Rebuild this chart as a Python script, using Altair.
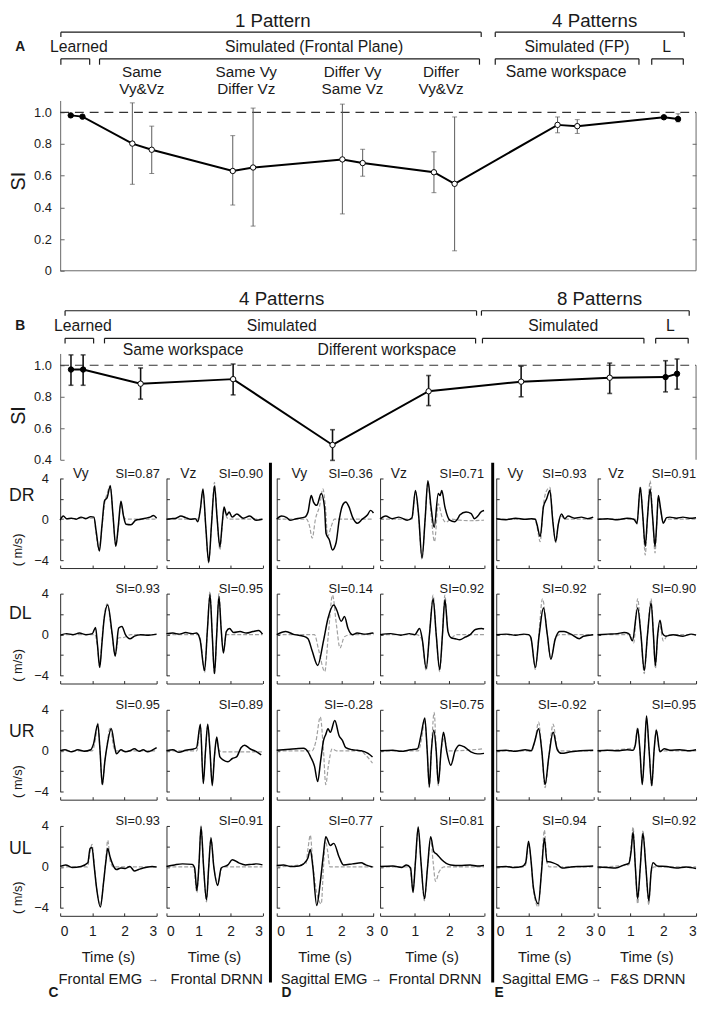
import altair as alt
import pandas as pd

FONT = "Liberation Sans"
INK = "#1a1a1a"
AXC = "#666666"
NEG4 = alt.ExprRef(expr="-4")
NEG3 = alt.ExprRef(expr="-3")

# ---------------- Panel A (1 pattern / 4 patterns) ----------------
A_POS = [1.66, 3.51, 11.35, 14.40, 27.14, 30.34, 44.38, 47.57, 58.78, 62.03, 78.22, 81.32, 94.94, 97.17]
A_SI = [0.981, 0.973, 0.803, 0.764, 0.630, 0.652, 0.703, 0.680, 0.622, 0.549, 0.921, 0.913, 0.969, 0.958]
A_LO = [0.976, 0.969, 0.546, 0.614, 0.415, 0.282, 0.359, 0.597, 0.493, 0.126, 0.871, 0.867, 0.965, 0.940]
A_HI = [0.986, 0.977, 1.060, 0.913, 0.853, 1.027, 1.052, 0.767, 0.751, 0.971, 0.971, 0.954, 0.973, 0.991]
A_KIND = ["learned", "learned"] + ["simulated"] * 10 + ["learned", "learned"]

A_BR_X1 = [0.11, 68.42, 0.11, 6.19, 68.42, 93.03]
A_BR_X2 = [66.21, 98.14, 4.64, 65.94, 91.02, 97.99]
A_BR_Y = [1.506, 1.506, 1.338, 1.338, 1.338, 1.338]
A_BR_YEND = [1.475, 1.475, 1.301, 1.301, 1.301, 1.301]

A_HEAD = ["1 Pattern", "4 Patterns"]
A_HEAD_X = [33.44, 84.06]
A_HEAD_Y = [1.633, 1.633]
A_LAB = ["Learned", "Simulated (Frontal Plane)", "Simulated (FP)", "L",
         "Same", "Vy&Vz", "Same Vy", "Differ Vz", "Differ Vy", "Same Vz",
         "Differ", "Vy&Vz", "Same workspace"]
A_LAB_X = [2.94, 39.94, 81.27, 95.36, 12.85, 12.85, 29.26, 29.26, 45.98, 45.98,
           59.91, 59.91, 79.57]
A_LAB_Y = [1.413, 1.413, 1.413, 1.413, 1.257, 1.145, 1.257, 1.145, 1.257, 1.145,
           1.257, 1.145, 1.257]
A_LAB_FS = [16, 16, 16, 16, 15.5, 15.5, 15.5, 15.5, 15.5, 15.5, 15.5, 15.5, 16]

# ---------------- Panel B (4 patterns / 8 patterns) ----------------
B_POS = [1.70, 3.61, 12.65, 27.20, 42.83, 57.94, 72.49, 86.42, 95.20, 97.01]
B_SI = [0.973, 0.973, 0.883, 0.912, 0.494, 0.835, 0.896, 0.921, 0.925, 0.946]
B_LO = [0.873, 0.873, 0.785, 0.812, 0.396, 0.744, 0.800, 0.821, 0.831, 0.848]
B_HI = [1.066, 1.066, 0.983, 1.008, 0.591, 0.935, 0.994, 1.014, 1.029, 1.040]
B_KIND = ["learned", "learned"] + ["simulated"] * 6 + ["learned", "learned"]

B_BR_X1 = [0.77, 66.25, 0.77, 6.97, 66.41, 93.65]
B_BR_X2 = [65.48, 98.92, 5.26, 65.33, 91.80, 98.76]
B_BR_Y = [1.346, 1.346, 1.171, 1.171, 1.171, 1.171]
B_BR_YEND = [1.315, 1.315, 1.139, 1.139, 1.139, 1.139]

B_HEAD = ["4 Patterns", "8 Patterns"]
B_HEAD_X = [34.83, 84.83]
B_HEAD_Y = [1.421, 1.421]
B_LAB = ["Learned", "Simulated", "Simulated", "L", "Same workspace", "Different workspace"]
B_LAB_X = [3.56, 34.83, 79.10, 95.98, 19.35, 51.39]
B_LAB_Y = [1.248, 1.248, 1.248, 1.248, 1.099, 1.099]
B_LAB_FS = [16, 16, 16, 16, 16, 16]

# ---------------- Velocity traces (t in s, v in m/s) ----------------
# K = recorded (black), G = simulated (grey dashed)
DR1_T = [0, 0.1, 0.2, 0.35, 0.5, 0.65, 0.8, 0.95, 1.05, 1.12, 1.22, 1.3, 1.38, 1.46, 1.56, 1.64, 1.73, 1.81, 1.89, 1.97, 2.05, 2.2, 2.35, 2.5, 2.65, 2.8, 2.9, 3.0]
DR1_K = [-0.1, 0.3, 0.05, 0.1, 0.0, 0.2, 0.05, 0.25, 0.2, -1.2, -3.1, -0.6, 1.8, 2.1, 3.25, 0.5, -2.65, -0.6, 1.75, 0.3, -0.5, -0.55, -0.1, 0.0, 0.1, 0.2, 0.35, 0.1]
DR1_GT = [0, 1.05, 1.12, 1.2, 1.3, 1.38, 1.47, 1.56, 1.64, 1.73, 1.81, 1.89, 1.97, 2.05, 3.0]
DR1_G = [0, 0.1, -1.5, -3.0, -0.8, 1.5, 2.6, 3.3, 0.4, -2.6, -0.8, 1.5, 0.3, 0.0, 0.0]

DR2_T = [0, 0.15, 0.3, 0.45, 0.6, 0.75, 0.9, 0.98, 1.06, 1.14, 1.23, 1.32, 1.41, 1.5, 1.58, 1.67, 1.74, 1.8, 1.88, 1.96, 2.05, 2.2, 2.4, 2.6, 2.8, 3.0]
DR2_K = [0.0, 0.05, 0.1, 0.3, 0.15, 0.0, 0.05, -0.25, 1.0, 2.95, -0.8, -4.2, -0.4, 3.25, 0.2, -2.7, -0.5, 1.2, 0.4, 0.7, 0.2, 0.5, 0.1, 0.3, -0.1, 0.0]
DR2_GT = [0, 0.98, 1.06, 1.14, 1.23, 1.32, 1.41, 1.5, 1.58, 1.67, 1.74, 1.8, 1.88, 1.96, 3.0]
DR2_G = [0, 0.0, 1.0, 2.8, -0.9, -4.3, -0.3, 3.6, 0.3, -3.0, -0.8, 1.0, 0.2, 0.0, 0.0]

DR3_T = [0, 0.15, 0.31, 0.41, 0.61, 0.87, 0.97, 1.07, 1.14, 1.24, 1.38, 1.48, 1.53, 1.63, 1.73, 1.84, 1.94, 2.04, 2.14, 2.24, 2.35, 2.5, 2.65, 2.81, 2.91, 3.0]
DR3_K = [0.0, 0.3, 0.15, -0.1, 0.05, 0.2, 0.7, 2.3, 1.67, 1.35, 2.5, 1.2, -1.4, -2.0, -3.0, -2.3, 0.0, 1.35, 1.67, 1.2, 0.2, -0.4, 0.0, 0.4, 0.86, 0.6]
DR3_GT = [0, 0.92, 1.02, 1.1, 1.2, 1.33, 1.43, 1.51, 1.58, 1.68, 1.79, 3.0]
DR3_G = [0, 0.0, -0.7, -1.86, 0.0, 1.3, 2.95, 1.2, -1.7, -0.8, 0.0, 0.0]

DR4_T = [0, 0.16, 0.35, 0.54, 0.78, 0.92, 1.02, 1.11, 1.21, 1.3, 1.38, 1.47, 1.56, 1.68, 1.73, 1.78, 1.87, 2.01, 2.15, 2.25, 2.3, 2.48, 2.63, 2.72, 2.82, 2.91, 3.0]
DR4_K = [0.0, 0.3, 0.05, 0.2, -0.1, 0.15, 2.8, 0.5, -3.8, 0.0, 3.75, 1.2, -0.8, 2.5, 2.3, 2.8, 1.2, -0.1, -0.25, 0.1, 0.4, 0.7, 0.55, 0.05, 0.3, 0.7, 0.85]
DR4_GT = [0, 0.92, 1.02, 1.11, 1.21, 1.3, 1.38, 1.47, 1.57, 1.68, 1.78, 1.9, 2.05, 2.3, 2.6, 3.0]
DR4_G = [0, 0.0, 2.7, 0.3, -3.9, 0.0, 3.6, 0.5, -2.2, 1.5, 0.3, -0.3, 0.0, -0.1, -0.15, -0.1]

DR5_T = [0, 0.3, 0.6, 0.9, 1.1, 1.21, 1.26, 1.36, 1.46, 1.56, 1.66, 1.75, 1.84, 1.92, 2.02, 2.12, 2.22, 2.43, 2.63, 2.83, 3.0]
DR5_K = [0.05, -0.05, 0.1, 0.0, 0.05, 0.0, -0.5, -1.7, 1.2, 2.0, 2.8, -0.2, -2.2, -0.5, 0.5, 0.05, 0.3, 0.1, 0.2, 0.05, 0.2]
DR5_GT = [0, 1.2, 1.26, 1.36, 1.46, 1.56, 1.66, 1.75, 1.84, 1.92, 2.02, 2.12, 3.0]
DR5_G = [0, 0.0, -0.7, -2.2, 1.4, 2.8, 3.1, 0.0, -2.3, -0.5, 0.3, 0.0, 0.0]

DR6_T = [0, 0.3, 0.6, 0.9, 1.1, 1.15, 1.2, 1.3, 1.38, 1.45, 1.52, 1.6, 1.68, 1.75, 1.8, 1.85, 1.92, 2.0, 2.1, 2.2, 2.4, 2.6, 2.8, 3.0]
DR6_K = [0.0, 0.05, -0.05, 0.1, 0.0, -0.2, -0.4, 3.1, 0.2, -2.65, 0.2, 2.95, 0.0, -2.65, -0.5, 2.3, 1.0, -0.4, 0.15, 0.2, 0.1, 0.2, 0.1, 0.15]
DR6_GT = [0, 1.15, 1.2, 1.3, 1.38, 1.45, 1.52, 1.6, 1.68, 1.75, 1.8, 1.85, 1.92, 2.0, 2.1, 3.0]
DR6_G = [0, 0.0, -0.5, 3.2, 0.2, -3.5, 0.2, 3.75, 0.0, -3.3, -0.6, 2.1, 0.8, -0.3, 0.0, 0.0]

DL1_T = [0, 0.2, 0.4, 0.6, 0.8, 1.0, 1.1, 1.16, 1.23, 1.3, 1.37, 1.48, 1.62, 1.71, 1.82, 1.92, 2.03, 2.17, 2.31, 2.5, 2.75, 3.0]
DL1_K = [-0.05, 0.1, 0.0, 0.15, 0.0, 0.1, 0.7, -1.0, -3.2, -0.8, 1.6, 2.9, 0.0, -2.1, 0.64, 0.8, 0.0, -0.4, -0.15, 0.0, -0.05, 0.05]
DL1_GT = [0, 1.08, 1.16, 1.23, 1.3, 1.37, 1.46, 1.6, 1.71, 1.82, 1.95, 2.2, 3.0]
DL1_G = [0, 0.0, -1.2, -3.2, -0.5, 1.8, 3.0, 0.3, -2.0, -0.3, -0.3, 0.0, 0.0]

DL2_T = [0, 0.2, 0.4, 0.6, 0.8, 0.94, 1.05, 1.19, 1.28, 1.36, 1.43, 1.5, 1.57, 1.64, 1.71, 1.78, 1.87, 1.97, 2.1, 2.3, 2.5, 2.7, 2.88, 3.0]
DL2_K = [0.1, 0.15, 0.05, 0.2, 0.1, 0.15, -0.5, -3.5, 0.5, 3.9, 0.0, -3.8, 0.0, 3.7, 0.5, -1.8, 0.3, 0.6, 0.2, 0.3, 0.15, 0.3, 0.4, 0.05]
DL2_GT = [0, 1.0, 1.07, 1.19, 1.28, 1.36, 1.43, 1.5, 1.57, 1.64, 1.71, 1.78, 1.87, 2.0, 3.0]
DL2_G = [0, 0.0, -0.6, -3.7, 0.5, 4.2, 0.0, -3.9, 0.0, 4.0, 0.5, -1.6, 0.0, 0.0, 0.0]

DL3_T = [0, 0.28, 0.55, 0.83, 0.97, 1.1, 1.27, 1.45, 1.59, 1.77, 1.86, 2.0, 2.1, 2.21, 2.35, 2.49, 2.76, 2.97, 3.0]
DL3_K = [0.0, 0.3, 0.0, -0.15, -0.4, -1.6, -3.0, -0.6, 1.6, 2.9, 2.4, 1.3, 1.76, 0.6, 0.0, 0.15, 0.05, 0.15, 0.1]
DL3_GT = [0, 1.17, 1.3, 1.49, 1.6, 1.73, 1.85, 1.96, 2.1, 2.3, 3.0]
DL3_G = [0, 0.0, -1.5, -3.6, 0.0, 3.85, 1.0, -1.3, -0.2, 0.0, 0.0]

DL4_T = [0, 0.3, 0.6, 0.85, 1.0, 1.14, 1.22, 1.33, 1.43, 1.53, 1.62, 1.72, 1.8, 1.87, 1.96, 2.05, 2.17, 2.3, 2.45, 2.6, 2.75, 2.93, 3.0]
DL4_K = [0.0, 0.1, -0.05, 0.1, 0.0, 0.6, -0.5, -3.3, 0.2, 3.5, 0.0, -3.4, 0.0, 3.4, 0.3, -0.3, -0.4, -0.5, -0.25, 0.0, 0.5, 0.6, 0.55]
DL4_GT = [0, 1.05, 1.2, 1.33, 1.43, 1.53, 1.62, 1.72, 1.8, 1.87, 1.96, 2.05, 2.2, 3.0]
DL4_G = [0, 0.0, -0.4, -3.5, 0.2, 3.85, 0.0, -3.6, 0.0, 3.85, 0.3, -0.3, 0.0, 0.0]

DL5_T = [0, 0.3, 0.6, 0.85, 1.0, 1.07, 1.21, 1.33, 1.46, 1.58, 1.69, 1.82, 1.96, 2.1, 2.31, 2.57, 2.7, 3.0]
DL5_K = [0.0, 0.05, -0.05, 0.05, 0.0, -0.25, -3.2, 0.0, 2.6, 0.0, -2.4, -0.5, 0.3, 0.3, 0.05, -0.4, -0.15, 0.0]
DL5_GT = [0, 1.0, 1.1, 1.21, 1.33, 1.43, 1.58, 1.69, 1.82, 1.96, 3.0]
DL5_G = [0, 0.0, -0.8, -3.4, 0.5, 3.5, 0.0, -2.4, -0.4, 0.0, 0.0]

DL6_T = [0, 0.3, 0.6, 0.81, 0.95, 1.06, 1.22, 1.32, 1.42, 1.52, 1.63, 1.7, 1.76, 1.83, 1.9, 1.98, 2.08, 2.3, 2.6, 2.85, 3.0]
DL6_K = [0.0, 0.05, 0.1, 0.2, 0.1, -0.6, 2.6, 0.0, -3.5, 0.0, 3.1, 0.0, -3.0, 0.0, 1.4, 0.1, -0.15, 0.0, -0.15, 0.05, -0.05]
DL6_GT = [0, 1.0, 1.1, 1.22, 1.32, 1.42, 1.52, 1.63, 1.7, 1.76, 1.83, 1.9, 2.0, 2.15, 3.0]
DL6_G = [0, 0.0, -0.8, 3.5, 0.0, -3.8, 0.0, 3.5, 0.0, -3.3, -0.2, 0.8, -0.6, 0.0, 0.0]

UR1_T = [0, 0.15, 0.35, 0.55, 0.75, 0.95, 1.04, 1.17, 1.24, 1.31, 1.39, 1.45, 1.59, 1.69, 1.75, 1.89, 2.03, 2.17, 2.31, 2.45, 2.58, 2.72, 2.86, 3.0]
UR1_K = [0.0, 0.1, -0.1, 0.1, -0.05, 0.1, 0.7, 2.6, 0.0, -3.3, -1.0, 0.3, 2.15, 0.5, -0.3, 0.1, -0.1, 0.0, 0.2, -0.05, 0.1, -0.1, 0.05, 0.3]
UR1_GT = [0, 1.0, 1.1, 1.17, 1.24, 1.31, 1.39, 1.45, 1.56, 1.66, 1.75, 3.0]
UR1_G = [0, 0.0, 1.2, 2.7, 0.0, -3.4, -1.0, 0.4, 2.3, 0.4, 0.0, 0.0]

UR2_T = [0, 0.2, 0.39, 0.6, 0.81, 0.94, 1.06, 1.15, 1.22, 1.29, 1.36, 1.43, 1.5, 1.57, 1.62, 1.67, 1.78, 1.92, 2.06, 2.19, 2.33, 2.44, 2.61, 2.82, 2.96]
UR2_K = [0.0, 0.1, -0.15, 0.05, 0.15, 0.3, 2.6, -3.2, 0.0, 2.6, 0.0, -3.4, -0.5, 1.35, 0.3, -0.6, -0.9, -1.06, -0.75, -0.6, 0.3, 0.55, 0.2, -0.1, -0.4]
UR2_GT = [0, 0.95, 1.06, 1.15, 1.22, 1.29, 1.36, 1.43, 1.5, 1.57, 1.65, 1.75, 2.5, 3.0]
UR2_G = [0, 0.0, 2.5, -3.0, 0.0, 2.5, 0.0, -3.1, -0.5, 1.0, 0.0, -0.1, -0.1, -0.1]

UR3_T = [0, 0.2, 0.4, 0.6, 0.83, 0.97, 1.05, 1.17, 1.27, 1.36, 1.45, 1.52, 1.59, 1.66, 1.8, 1.93, 2.04, 2.14, 2.35, 2.5, 2.62, 2.83, 2.97]
UR3_K = [0.05, 0.1, 0.15, 0.2, 0.25, -0.1, -0.6, -1.5, -3.0, -1.0, 1.0, 1.6, 2.15, 1.8, 2.95, 1.5, 1.0, 0.3, 0.1, 0.05, 0.0, -0.25, -0.6]
UR3_GT = [0, 1.1, 1.22, 1.35, 1.45, 1.52, 1.6, 1.72, 1.85, 2.6, 2.75, 2.97]
UR3_G = [0, 0.0, 1.0, 3.3, 0.0, -3.3, -1.5, 0.2, 0.0, 0.0, -0.4, -1.2]

UR4_T = [0, 0.37, 0.6, 0.88, 1.08, 1.18, 1.29, 1.36, 1.42, 1.48, 1.55, 1.62, 1.68, 1.76, 1.83, 1.92, 2.04, 2.17, 2.29, 2.42, 2.62, 2.81, 3.0]
UR4_K = [0.0, 0.05, -0.05, 0.1, 0.2, 1.5, 3.2, 0.0, -3.5, 0.0, 2.0, 0.0, -3.2, 0.0, 1.8, 0.0, -1.4, 0.05, 0.55, 0.4, -0.1, -0.3, -0.25]
UR4_GT = [0, 1.1, 1.2, 1.29, 1.36, 1.42, 1.48, 1.56, 1.62, 1.68, 1.76, 1.85, 1.95, 2.1, 3.0]
UR4_G = [0, 0.0, 1.2, 3.0, 0.0, -3.6, 0.0, 3.75, 0.0, -3.4, 0.0, 1.2, 0.0, 0.0, 0.2]

UR5_T = [0, 0.3, 0.6, 0.9, 1.08, 1.18, 1.31, 1.41, 1.51, 1.63, 1.76, 1.89, 2.02, 2.31, 2.6, 3.0]
UR5_K = [0.0, 0.05, -0.05, 0.1, 0.0, 0.8, 2.15, 0.0, -3.3, -0.5, 1.8, 0.1, -0.25, -0.1, 0.0, 0.05]
UR5_GT = [0, 1.1, 1.2, 1.31, 1.41, 1.51, 1.63, 1.76, 1.89, 2.0, 3.0]
UR5_G = [0, 0.0, 1.0, 2.8, 0.0, -3.6, -0.5, 2.6, 0.2, 0.0, 0.0]

UR6_T = [0, 0.3, 0.6, 0.9, 1.08, 1.15, 1.22, 1.29, 1.36, 1.43, 1.49, 1.57, 1.65, 1.72, 1.79, 1.9, 2.03, 2.2, 2.5, 2.8, 3.0]
UR6_K = [0.0, 0.05, 0.0, 0.1, 0.05, 0.6, 2.15, 0.0, -3.3, 0.0, 3.4, 0.0, -3.4, 0.0, 2.0, -0.1, 0.2, 0.05, 0.1, 0.0, 0.1]
UR6_GT = [0, 1.12, 1.22, 1.29, 1.36, 1.43, 1.49, 1.57, 1.65, 1.72, 1.79, 1.88, 3.0]
UR6_G = [0, 0.3, 2.3, 0.0, -3.1, 0.0, 3.2, 0.0, -3.5, 0.0, 2.1, 0.0, 0.0]

UL1_T = [0, 0.17, 0.37, 0.65, 0.86, 0.93, 0.99, 1.06, 1.13, 1.25, 1.35, 1.42, 1.48, 1.55, 1.62, 1.75, 1.89, 2.03, 2.17, 2.31, 2.44, 2.58, 2.86, 3.0]
UL1_K = [0.05, 0.2, -0.05, 0.05, 0.4, 1.8, 1.9, 0.0, -2.0, -3.9, -1.5, 0.5, 1.8, 1.0, 0.35, -0.25, -0.1, -0.15, 0.05, -0.4, -0.25, -0.1, 0.05, 0.0]
UL1_GT = [0, 0.85, 0.92, 0.99, 1.06, 1.13, 1.25, 1.35, 1.42, 1.48, 1.56, 1.65, 3.0]
UL1_G = [0, 0.0, 1.3, 2.2, 0.3, -2.0, -3.7, -1.5, 0.8, 2.6, 0.5, 0.0, 0.0]

UL2_T = [0, 0.25, 0.5, 0.8, 0.88, 0.95, 1.02, 1.08, 1.16, 1.25, 1.32, 1.39, 1.48, 1.6, 1.71, 1.92, 2.06, 2.26, 2.47, 2.65, 2.82, 3.0]
UL2_K = [0.05, 0.2, 0.3, 0.25, -0.1, -2.3, 0.5, 3.9, 0.0, -3.2, 0.0, 2.8, 0.0, -1.8, -0.1, 0.2, 0.7, 0.4, 0.2, 0.25, 0.3, 0.2]
UL2_GT = [0, 0.85, 0.95, 1.02, 1.08, 1.16, 1.25, 1.32, 1.39, 1.48, 1.6, 1.75, 3.0]
UL2_G = [0, 0.0, -2.5, 0.5, 4.0, 0.0, -3.4, 0.0, 2.9, 0.0, -1.5, 0.0, 0.0]

UL3_T = [0, 0.21, 0.41, 0.69, 0.83, 0.97, 1.04, 1.12, 1.24, 1.35, 1.44, 1.52, 1.66, 1.77, 1.93, 2.07, 2.35, 2.62, 2.76, 2.97]
UL3_K = [0.15, 0.2, 0.05, 0.1, 0.3, 0.9, 1.7, 0.0, -3.75, -1.5, 1.0, 2.95, 2.1, 2.3, 1.0, 0.2, 0.3, 0.4, 0.2, 0.0]
UL3_GT = [0, 0.9, 0.97, 1.04, 1.12, 1.24, 1.38, 1.45, 1.51, 1.58, 1.65, 3.0]
UL3_G = [0, 0.3, 1.8, 3.1, 0.3, -2.5, -3.6, 0.0, 2.6, 1.5, 0.0, 0.0]

UL4_T = [0, 0.37, 0.63, 0.76, 0.88, 0.95, 1.02, 1.1, 1.18, 1.28, 1.37, 1.46, 1.55, 1.65, 1.78, 1.91, 2.04, 2.3, 2.6, 2.8, 3.0]
UL4_K = [0.05, 0.1, -0.05, 0.2, -0.1, -2.5, 0.5, 3.9, 0.5, -3.1, 0.0, 2.95, 1.5, 1.2, 0.7, 0.35, 0.2, 0.15, 0.2, 0.1, 0.15]
UL4_GT = [0, 0.85, 0.95, 1.02, 1.1, 1.18, 1.28, 1.37, 1.46, 1.53, 1.6, 1.7, 1.85, 3.0]
UL4_G = [0, 0.0, -2.2, 0.5, 3.75, 0.5, -3.3, 0.0, 2.8, 0.5, -1.4, -0.5, 0.0, 0.0]

UL5_T = [0, 0.3, 0.55, 0.8, 0.91, 1.0, 1.08, 1.15, 1.3, 1.4, 1.49, 1.57, 1.62, 1.76, 1.9, 2.04, 2.31, 2.59, 3.0]
UL5_K = [0.0, 0.05, -0.05, 0.05, 0.4, 2.5, 0.5, -2.0, -3.6, -0.5, 2.8, 0.5, 0.5, 0.4, 0.2, -0.1, 0.0, 0.05, 0.1]
UL5_GT = [0, 0.88, 0.95, 1.0, 1.08, 1.15, 1.3, 1.4, 1.49, 1.57, 1.65, 3.0]
UL5_G = [0, 0.0, 1.0, 2.3, 0.5, -2.2, -3.9, -0.3, 3.6, 0.4, 0.0, 0.0]

UL6_T = [0, 0.3, 0.55, 0.81, 0.95, 1.02, 1.08, 1.15, 1.22, 1.3, 1.38, 1.47, 1.56, 1.63, 1.69, 1.82, 2.1, 2.4, 2.7, 3.0]
UL6_K = [0.0, -0.05, -0.1, 0.2, 0.35, 1.5, 3.4, 0.0, -3.1, 0.0, 3.3, 0.0, -3.3, -0.5, 0.4, 0.1, 0.05, -0.1, 0.0, -0.15]
UL6_GT = [0, 0.95, 1.02, 1.08, 1.15, 1.22, 1.3, 1.38, 1.47, 1.56, 1.63, 1.72, 3.0]
UL6_G = [0, 0.2, 2.0, 3.9, 0.0, -3.6, 0.0, 3.5, 0.0, -3.7, -0.5, 0.0, 0.0]

ROW_NAMES = ["DR", "DL", "UR", "UL"]
ROW_NAME_Y = [2.3, 2.0, 1.8, 1.7]
SI_DR = ["SI=0.87", "SI=0.90", "SI=0.36", "SI=0.71", "SI=0.93", "SI=0.91"]
SI_DL = ["SI=0.93", "SI=0.95", "SI=0.14", "SI=0.92", "SI=0.92", "SI=0.90"]
SI_UR = ["SI=0.95", "SI=0.89", "SI=-0.28", "SI=0.75", "SI=-0.92", "SI=0.95"]
SI_UL = ["SI=0.93", "SI=0.91", "SI=0.77", "SI=0.81", "SI=0.94", "SI=0.92"]
SI_X = [3.1, 3.02, 2.98, 3.0, 2.8, 3.0]
V_NAMES = ["Vy", "Vz", "Vy", "Vz", "Vy", "Vz"]
V_X = [0.4, 0.43, 0.46, 0.31, 0.35, 0.32]
BOTTOM_TEXT = [["Frontal EMG", "\u2192"], ["Frontal DRNN"], ["Sagittal EMG", "\u2192"],
               ["Frontal DRNN"], ["Sagittal EMG", "\u2192"], ["F&S DRNN"]]
BOTTOM_X = [[1.25, 2.9], [1.57], [1.47, 3.1], [1.59], [1.52, 3.1], [1.53]]
LETTERS = ["C", "", "D", "", "E", ""]
LETTER_X = [-0.21, 0, 0.30, 0, 0.09, 0]

TRACES = [
    [(DR1_T, DR1_K, DR1_GT, DR1_G), (DR2_T, DR2_K, DR2_GT, DR2_G), (DR3_T, DR3_K, DR3_GT, DR3_G),
     (DR4_T, DR4_K, DR4_GT, DR4_G), (DR5_T, DR5_K, DR5_GT, DR5_G), (DR6_T, DR6_K, DR6_GT, DR6_G)],
    [(DL1_T, DL1_K, DL1_GT, DL1_G), (DL2_T, DL2_K, DL2_GT, DL2_G), (DL3_T, DL3_K, DL3_GT, DL3_G),
     (DL4_T, DL4_K, DL4_GT, DL4_G), (DL5_T, DL5_K, DL5_GT, DL5_G), (DL6_T, DL6_K, DL6_GT, DL6_G)],
    [(UR1_T, UR1_K, UR1_GT, UR1_G), (UR2_T, UR2_K, UR2_GT, UR2_G), (UR3_T, UR3_K, UR3_GT, UR3_G),
     (UR4_T, UR4_K, UR4_GT, UR4_G), (UR5_T, UR5_K, UR5_GT, UR5_G), (UR6_T, UR6_K, UR6_GT, UR6_G)],
    [(UL1_T, UL1_K, UL1_GT, UL1_G), (UL2_T, UL2_K, UL2_GT, UL2_G), (UL3_T, UL3_K, UL3_GT, UL3_G),
     (UL4_T, UL4_K, UL4_GT, UL4_G), (UL5_T, UL5_K, UL5_GT, UL5_G), (UL6_T, UL6_K, UL6_GT, UL6_G)],
]
SI_ROWS = [SI_DR, SI_DL, SI_UR, SI_UL]

# ---------------- layout (pixels) ----------------
PLOT_W = [98, 97.5, 98.3, 105.6, 98.5, 100]   # plot widths of the six trace columns
GAP_R = [10, 14.5, 5.9, 12.2, 4.5, 0]          # gap to the right of each column
ROW_H = 83.3                                   # plot height of a trace row
GAP_ABOVE = [18.7, 34, 34, 34]                 # gap above each trace row
AB_W = 646
A_H = 173
B_H = 108
B_GAP = 84


def bracket_df(x1s, x2s, ys, yends):
    rows = []
    for a, b, y, ye in zip(x1s, x2s, ys, yends):
        rows.append((a, b, y, y))
        rows.append((a, a, y, ye))
        rows.append((b, b, y, ye))
    return pd.DataFrame(rows, columns=["x", "x2", "y", "y2"])


def ab_panel(pos, si, lo, hi, kind, ydom, yticks, plot_h, gap_above, bottom_axis, right_ticks,
             brk, head, head_x, head_y, head_baseline, lab, lab_x, lab_y, lab_fs,
             letter, letter_y, si_y, err_color, err_w):
    cell_w = PLOT_W[0] + GAP_R[0]
    cell_h = plot_h + gap_above
    xs = alt.Scale(domain=[0, 100], range=[0, AB_W], nice=False, zero=False)
    ys = alt.Scale(domain=ydom, range=[cell_h, gap_above], nice=False, zero=False)

    def X(f, ax=None):
        return alt.X(f"{f}:Q", scale=xs, axis=ax)

    def Y(f, ax=None):
        return alt.Y(f"{f}:Q", scale=ys, axis=ax)

    df = pd.DataFrame({"x": pos, "y": si, "lo": lo, "hi": hi, "kind": kind})
    yax = alt.Axis(values=yticks, labelExpr="datum.value == 0 ? '0' : format(datum.value, '.1f')",
                   tickSize=NEG4, labelPadding=13, labelFontSize=13, labelColor=INK,
                   domainColor=AXC, tickColor=AXC, title=None, grid=False)
    main = alt.Chart(df).mark_line(color="black", strokeWidth=2).encode(x=X("x"), y=Y("y", yax))
    ref = alt.Chart(pd.DataFrame({"x": [0], "x2": [100], "y": [1.0]})).mark_rule(
        color="#333333", strokeDash=[9, 6], strokeWidth=1.1).encode(x=X("x"), x2="x2:Q", y=Y("y"))
    err = alt.Chart(df).mark_rule(color=err_color, strokeWidth=err_w).encode(
        x=X("x"), y=Y("lo"), y2="hi:Q")
    cap_lo = alt.Chart(df).mark_tick(orient="horizontal", color=err_color, size=5,
                                     thickness=err_w).encode(x=X("x"), y=Y("lo"))
    cap_hi = alt.Chart(df).mark_tick(orient="horizontal", color=err_color, size=5,
                                     thickness=err_w).encode(x=X("x"), y=Y("hi"))
    pts = alt.Chart(df).mark_circle(size=30, stroke="black", strokeWidth=1, opacity=1).encode(
        x=X("x"), y=Y("y"),
        fill=alt.Fill("kind:N", scale=alt.Scale(domain=["learned", "simulated"], range=["black", "white"]),
                      legend=None))
    right = alt.Chart(pd.DataFrame({"x": [100], "y": [ydom[0]], "y2": [1.0]})).mark_rule(
        color=AXC, strokeWidth=1).encode(
        x=X("x"),
        y=Y("y", alt.Axis(orient="right", offset=AB_W - cell_w, values=right_ticks, labels=False,
                          domain=False, tickSize=NEG4, tickColor=AXC, title=None, grid=False)),
        y2="y2:Q")
    br = alt.Chart(brk).mark_rule(color=INK, strokeWidth=1.2).encode(
        x=X("x"), x2="x2:Q", y=Y("y"), y2="y2:Q")
    heads = alt.Chart(pd.DataFrame({"x": head_x, "y": head_y, "label": head})).mark_text(
        fontSize=19, color=INK, align="center", baseline=head_baseline).encode(
        x=X("x"), y=Y("y"), text="label:N")
    labs = alt.Chart(pd.DataFrame({"x": lab_x, "y": lab_y, "label": lab, "fs": lab_fs})).mark_text(
        color=INK, align="center", baseline="middle").encode(
        x=X("x"), y=Y("y"), text="label:N", size=alt.Size("fs:Q", scale=None, legend=None))
    let = alt.Chart(pd.DataFrame({"x": [-6.3], "y": [letter_y], "label": [letter]})).mark_text(
        fontSize=14, fontWeight="bold", color=INK, align="center", baseline="middle").encode(
        x=X("x"), y=Y("y"), text="label:N")
    sit = alt.Chart(pd.DataFrame({"x": [-6.5], "y": [si_y], "label": ["SI"]})).mark_text(
        fontSize=20, angle=270, color=INK, align="center", baseline="middle").encode(
        x=X("x"), y=Y("y"), text="label:N")
    layers = [main, ref, err, cap_lo, cap_hi, pts, right, br, heads, labs, let, sit]
    if bottom_axis:
        base = alt.Chart(pd.DataFrame({"x": [0], "x2": [100], "y": [ydom[0]]})).mark_rule(
            color=AXC, strokeWidth=1).encode(x=X("x"), x2="x2:Q", y=Y("y"))
        layers.insert(0, base)
    return alt.layer(*layers).properties(
        width=cell_w, height=cell_h).resolve_axis(x="independent", y="independent")


def trace_panel(r, c):
    tt, kk, gt, gg = TRACES[r][c]
    cell_w = PLOT_W[c] + GAP_R[c]
    cell_h = ROW_H + GAP_ABOVE[r]
    sc_t = alt.Scale(domain=[0, 3], range=[0, PLOT_W[c]], nice=False, zero=False)
    sc_v = alt.Scale(domain=[-4, 4], range=[cell_h, GAP_ABOVE[r]], nice=False, zero=False)

    def T(f="t", ax=None):
        return alt.X(f"{f}:Q", scale=sc_t, axis=ax)

    def V(f="v", ax=None):
        return alt.Y(f"{f}:Q", scale=sc_v, axis=ax)

    def text_layer(labels, xs, ys, **kw):
        d = pd.DataFrame({"t": xs, "v": ys, "label": labels})
        return alt.Chart(d).mark_text(color=INK, **kw).encode(x=T(), y=V(), text="label:N")

    xax = alt.Axis(values=[0, 1, 2, 3], offset=8, tickSize=NEG3, labels=(r == 3), labelPadding=12,
                   labelFontSize=14, labelColor=INK, domainColor="#2a2a2a", tickColor="#2a2a2a",
                   title=None, grid=False)
    ykw = dict(values=[-4, -2, 0, 2, 4], tickSize=NEG3, domainColor="#2a2a2a", tickColor="#2a2a2a",
               title=None, grid=False)
    if c == 0:
        yax = alt.Axis(labels=True, labelExpr="datum.value == 2 || datum.value == -2 ? '' : datum.label",
                       labelPadding=15, labelFontSize=13, labelColor=INK, **ykw)
    else:
        yax = alt.Axis(labels=False, **ykw)
    gray = alt.Chart(pd.DataFrame({"t": gt, "v": gg})).mark_line(
        color="#a0a0a0", strokeDash=[4, 2], strokeWidth=1.2, interpolate="monotone").encode(
        x=T("t", xax), y=V("v", yax))
    black = alt.Chart(pd.DataFrame({"t": tt, "v": kk})).mark_line(
        color="black", strokeWidth=1.5, interpolate="monotone").encode(x=T(), y=V())
    layers = [gray, black,
              text_layer([SI_ROWS[r][c]], [SI_X[c]], [4.45], align="right", baseline="middle", fontSize=13)]
    if r == 0:
        layers.append(text_layer([V_NAMES[c]], [V_X[c]], [4.45], align="left", baseline="middle", fontSize=14))
        if c in (1, 3):
            sep = alt.Chart(pd.DataFrame({"t": [3.25], "v": [5.5], "v2": [-45.2]})).mark_rule(
                color="black", strokeWidth=3).encode(x=T(), y=V(), y2="v2:Q")
            layers.append(sep)
    if c == 0:
        layers.append(text_layer([ROW_NAMES[r]], [-1.59], [ROW_NAME_Y[r]], align="left",
                                 baseline="middle", fontSize=18))
        layers.append(text_layer(["( m/s)"], [-1.31], [-3.0], align="center", baseline="middle",
                                 fontSize=13, angle=270))
    if r == 3:
        layers.append(text_layer(["Time (s)"], [1.5], [-8.82], align="center", baseline="middle", fontSize=15))
        for lbl, xx in zip(BOTTOM_TEXT[c], BOTTOM_X[c]):
            fs = 11 if lbl == "\u2192" else 15
            layers.append(text_layer([lbl], [xx], [-10.9], align="center", baseline="middle", fontSize=fs))
        if LETTERS[c]:
            layers.append(text_layer([LETTERS[c]], [LETTER_X[c]], [-12.34], align="center",
                                     baseline="middle", fontSize=14, fontWeight="bold"))
    return alt.layer(*layers).properties(width=cell_w, height=cell_h).resolve_axis(
        x="independent", y="independent")


def empty_cell():
    return alt.Chart(pd.DataFrame({"e": [0]})).mark_point(opacity=0).encode(
        x=alt.X("e:Q", axis=None), y=alt.Y("e:Q", axis=None)).properties(width=1, height=1)


panel_a = ab_panel(A_POS, A_SI, A_LO, A_HI, A_KIND, [0, 1.075], [0, 0.2, 0.4, 0.6, 0.8, 1.0], A_H, 0,
                   True, [0.2, 0.4, 0.6, 0.8],
                   bracket_df(A_BR_X1, A_BR_X2, A_BR_Y, A_BR_YEND),
                   A_HEAD, A_HEAD_X, A_HEAD_Y, "top", A_LAB, A_LAB_X, A_LAB_Y, A_LAB_FS,
                   "A", 1.413, 0.566, "#5a5a5a", 1)
panel_b = ab_panel(B_POS, B_SI, B_LO, B_HI, B_KIND, [0.4, 1.075], [0.4, 0.6, 0.8, 1.0], B_H, B_GAP,
                   False, [0.6, 0.8],
                   bracket_df(B_BR_X1, B_BR_X2, B_BR_Y, B_BR_YEND),
                   B_HEAD, B_HEAD_X, B_HEAD_Y, "middle", B_LAB, B_LAB_X, B_LAB_Y, B_LAB_FS,
                   "B", 1.248, 0.681, "#111111", 1.6)

cells = [panel_a] + [empty_cell() for _ in range(5)] + [panel_b] + [empty_cell() for _ in range(5)]
for r in range(4):
    for c in range(6):
        cells.append(trace_panel(r, c))

chart = alt.concat(*cells, columns=6, spacing=0, bounds="flush").properties(
    padding={"top": -5, "left": 0, "right": 0, "bottom": 0}).configure_view(
    stroke="transparent").configure_axis(labelFont=FONT, titleFont=FONT).configure_text(font=FONT)

chart.save("out.html", embed_options={"renderer": "svg", "actions": False})
